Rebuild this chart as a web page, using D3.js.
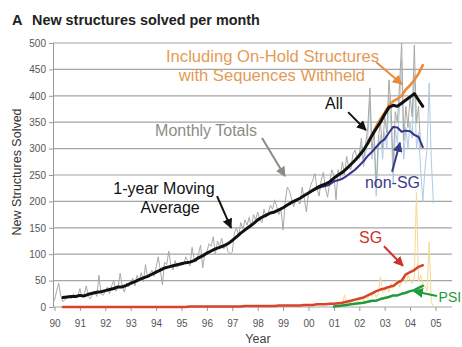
<!DOCTYPE html>
<html><head><meta charset="utf-8">
<script src="https://cdn.jsdelivr.net/npm/d3@7/dist/d3.min.js"></script>
<style>
body{margin:0;background:#fff;}
svg{display:block;font-family:"Liberation Sans",Arial,Helvetica,sans-serif;}
</style></head>
<body>
<svg id="chart" width="462" height="347"></svg>
<script>
// ---------- DATA ----------
const yTicks = [0, 50, 100, 150, 200, 250, 300, 350, 400, 450, 500];
const xTickYears = [1990,1991,1992,1993,1994,1995,1996,1997,1998,1999,2000,2001,2002,2003,2004,2005];
const xTickLabels = ["90","91","92","93","94","95","96","97","98","99","00","01","02","03","04","05"];

// Monthly totals, all structures (monthly, from Jan 1990)
const monthlyStart = 1990.0;
const monthlyTotals = [
  13,30,45,20,10,14,18,22,16,25,18,20,
  35,18,22,40,20,15,28,30,20,60,25,22,
  30,38,25,40,50,30,35,64,40,28,45,38,
  45,55,40,60,50,65,48,80,55,62,70,58,
  75,95,70,42,85,80,106,78,70,88,75,82,
  85,80,95,88,78,113,90,85,100,117,74,100,
  105,120,115,133,100,125,115,130,110,120,105,100,
  104,140,150,135,160,148,165,155,170,150,175,165,
  180,165,160,185,170,178,193,185,203,190,175,185,
  146,200,227,220,205,190,203,200,195,227,205,180,
  215,230,240,253,225,210,240,255,225,208,235,260,
  250,203,260,245,275,250,285,265,260,290,297,280,
  290,320,275,310,341,415,300,330,227,320,350,300,
  360,330,430,380,265,370,350,420,500,316,380,340,
  400,360,496,348,380,300
];
// Monthly non-SG totals (monthly, from Jan 2002)
const nonSGMonthlyStart = 2002.0;
const nonSGMonthly = [
  280,305,265,290,320,390,280,310,210,300,325,280,
  330,300,400,345,235,335,310,380,470,280,340,300,
  350,320,440,300,330,260,200,260,300,424,280,197
];
// Monthly SG totals (monthly, from Jan 2001)
const sgMonthlyStart = 2001.0;
const sgMonthly = [
  2,4,3,8,5,23,6,10,8,12,15,10,
  12,18,10,22,15,25,20,30,18,25,57,28,
  30,40,28,45,35,40,51,38,48,57,45,60,
  50,45,57,218,48,60,45,40,30,123,10,0
];
// 1-year moving average, all (every 2 months, from May 1990)
const maStart = 1990.333;
const maAll = [
  18,19,20,20,
  22,21,24,26,28,29,
  31,33,35,38,38,41,
  45,48,52,55,58,62,
  66,70,74,76,78,80,
  82,84,85,88,93,97,
  102,106,110,113,116,120,
  126,133,140,146,152,158,
  165,170,174,178,180,184,
  188,193,198,202,206,211,
  216,221,226,230,233,237,
  244,250,255,262,270,278,
  287,297,310,325,338,350,
  365,378,382,380,386,392,
  398,404,392,380
];
// Including on-hold structures (every 2 months, from May 2002)
const onHoldStart = 2002.333;
const maOnHold = [310,326,342,356, 368,382,390,394,400,412, 420,430,442,458];
// non-SG moving average (every 2 months, from Jan 2000)
const nonSGStart = 2000.0;
const maNonSG = [
  216,220,224,227,229,232,
  238,240,243,248,254,260,
  268,276,286,294,303,312,
  318,330,341,340,332,334,
  333,326,322,303
];
// SG moving average (every 2 months, from May 1990)
const sgStart = 1990.333;
const maSG = [
  0,0,0,0,
  0,0,0,0,0,0,
  0,0,0,0,0,0,
  0,0,0,0,0,0,
  0,0,0,0,0,0,
  0,0,1,1,1,1,
  1,1,1,1,1,1,
  1,1,1,2,2,2,
  2,2,2,2,2,3,
  3,3,3,3,3,4,
  4,4,5,5,5,6,
  6,7,8,10,12,14,
  16,18,22,26,30,33,
  35,38,40,46,50,62,
  66,70,76,79
];
// PSI moving average (every 2 months, from Jan 2001)
const psiStart = 2001.0;
const maPSI = [1,2,3,4,5,6, 7,8,10,12,12,15, 17,19,22,22,25,27, 30,32,36,40];

// Annotations in data units: [year, value]
const labels = [
  {text:"Including On-Hold Structures", at:[1994.39,464], anchor:"start", color:"#e39b55", size:16.6},
  {text:"with Sequences Withheld", at:[1998.56,428], anchor:"middle", color:"#e39b55", size:16.6},
  {text:"All", at:[2000.65,375], anchor:"start", color:"#111", size:16},
  {text:"Monthly Totals", at:[1993.96,324], anchor:"start", color:"#8c8c84", size:16},
  {text:"1-year Moving", at:[1994.31,214], anchor:"middle", color:"#111", size:16},
  {text:"Average", at:[1994.55,178], anchor:"middle", color:"#111", size:16},
  {text:"non-SG", at:[2002.22,225], anchor:"start", color:"#3b3b8c", size:16},
  {text:"SG", at:[2001.99,121], anchor:"start", color:"#cc3328", size:16},
  {text:"PSI", at:[2005.12,10], anchor:"start", color:"#1f9a3c", size:14}
];
const arrows = [
  {from:[2002.66,464], to:[2003.68,422], color:"#ec8a3a"},
  {from:[2001.56,369], to:[2002.26,335], color:"#111"},
  {from:[1998.17,320], to:[1999.07,248], color:"#8c8c84"},
  {from:[1996.40,210], to:[1996.95,150], color:"#111"},
  {from:[2003.29,256], to:[2003.60,311], color:"#3b3b8c"},
  {from:[2002.97,115], to:[2003.72,78], color:"#cc3328"},
  {from:[2005.06,21], to:[2004.15,30], color:"#1f9a3c"}
];

// ---------- CHART ----------
const svg = d3.select("#chart");
const x = d3.scaleLinear().domain([1990, 2005]).range([54.5, 435.5]);
const y = d3.scaleLinear().domain([0, 500]).range([307, 43]);
const plotLeft = 53, plotRight = 452;

// title
svg.append("text").attr("x", 12).attr("y", 25).attr("font-size", 14.5).attr("font-weight", "bold").attr("fill", "#222").text("A");
svg.append("text").attr("x", 32).attr("y", 25).attr("font-size", 14.4).attr("font-weight", "bold").attr("fill", "#222").text("New structures solved per month");

// gridlines
svg.append("g").selectAll("line").data(yTicks).join("line")
  .attr("x1", plotLeft).attr("x2", plotRight)
  .attr("y1", d => y(d)).attr("y2", d => y(d))
  .attr("stroke", "#a4a4a4").attr("stroke-width", 1.2);

// y axis
const yAxis = d3.axisLeft(y).tickValues(yTicks).tickSize(4).tickPadding(3);
const gy = svg.append("g").attr("transform", `translate(${plotLeft},0)`).call(yAxis);
gy.select(".domain").attr("stroke", "#999");
gy.selectAll(".tick line").attr("stroke", "#999");
gy.selectAll(".tick text").attr("font-size", 10).attr("fill", "#555").attr("font-family", "Liberation Sans, Arial, sans-serif");

// x axis
const xAxis = d3.axisBottom(x).tickValues(xTickYears).tickFormat((d, i) => xTickLabels[i]).tickSize(4).tickPadding(9);
const gx = svg.append("g").attr("transform", `translate(0,${y(0)})`).call(xAxis);
gx.select(".domain").remove();
gx.selectAll(".tick line").attr("stroke", "#999");
gx.selectAll(".tick text").attr("font-size", 10).attr("fill", "#555").attr("font-family", "Liberation Sans Narrow, Liberation Sans, Arial, sans-serif");

// axis titles
svg.append("text").attr("x", 258).attr("y", 343).attr("text-anchor", "middle").attr("font-size", 12.5).attr("fill", "#444").text("Year");
svg.append("text").attr("transform", "translate(21,172) rotate(-90)").attr("text-anchor", "middle").attr("font-size", 12.5).attr("fill", "#333").text("New Structures Solved");

// series helper
function series(values, start, stepMonths) {
  return values.map((v, i) => [start + i * stepMonths / 12, v]);
}
const line = d3.line().x(d => x(d[0])).y(d => y(d[1]));
function draw(values, start, step, color, width) {
  svg.append("path").datum(series(values, start, step))
    .attr("d", line).attr("fill", "none").attr("stroke", color)
    .attr("stroke-width", width).attr("stroke-linejoin", "round").attr("stroke-linecap", "round");
}

draw(sgMonthly, sgMonthlyStart, 1, "#f6d98c", 1);
draw(nonSGMonthly, nonSGMonthlyStart, 1, "#aecbe2", 1);
draw(monthlyTotals, monthlyStart, 1, "#a9a9a2", 1);
draw(maPSI, psiStart, 2, "#1f9a3c", 2.5);
draw(maSG, sgStart, 2, "#d9432c", 2.5);
draw(maOnHold, onHoldStart, 2, "#f08a33", 2.6);
draw(maNonSG, nonSGStart, 2, "#34348c", 2);
draw(maAll, maStart, 2, "#111", 3);

// annotations
const defs = svg.append("defs");
arrows.forEach((a, i) => {
  defs.append("marker").attr("id", "ah" + i).attr("viewBox", "0 0 10 10")
    .attr("refX", 9).attr("refY", 5).attr("markerWidth", 10).attr("markerHeight", 10)
    .attr("markerUnits", "userSpaceOnUse").attr("orient", "auto")
    .append("path").attr("d", "M0,0 L10,5 L0,10 Z").attr("fill", a.color);
});
svg.append("g").selectAll("line").data(arrows).join("line")
  .attr("x1", d => x(d.from[0])).attr("y1", d => y(d.from[1]))
  .attr("x2", d => x(d.to[0])).attr("y2", d => y(d.to[1]))
  .attr("stroke", d => d.color).attr("stroke-width", 2)
  .attr("marker-end", (d, i) => `url(#ah${i})`);

svg.append("g").selectAll("text").data(labels).join("text")
  .attr("x", d => x(d.at[0])).attr("y", d => y(d.at[1]))
  .attr("text-anchor", d => d.anchor).attr("fill", d => d.color)
  .attr("font-size", d => d.size).text(d => d.text);
</script>
</body></html>
